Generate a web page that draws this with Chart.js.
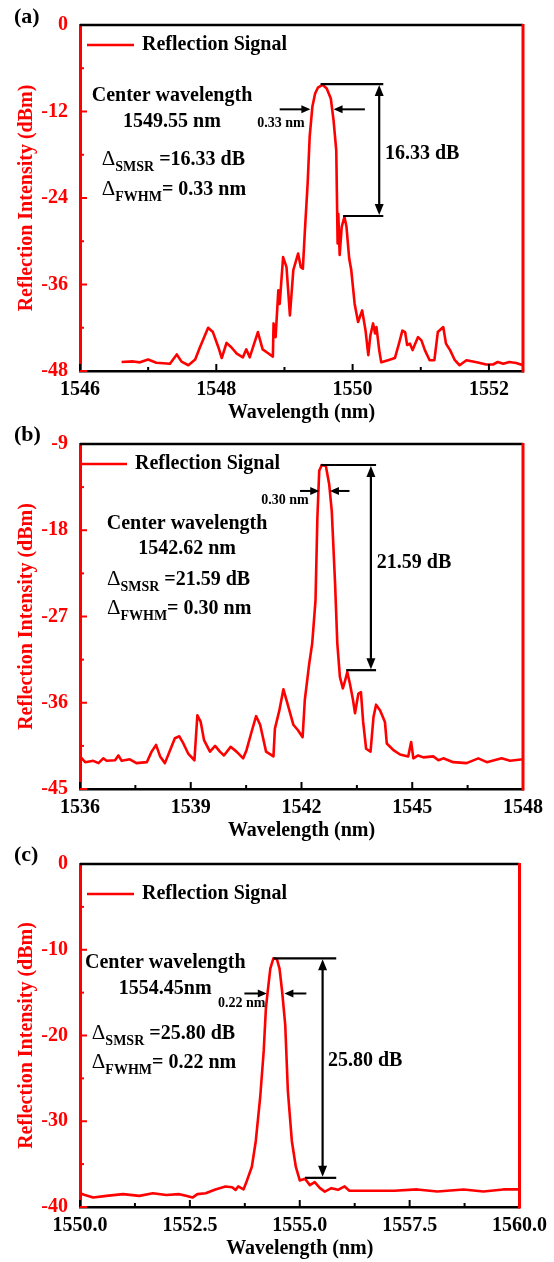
<!DOCTYPE html>
<html>
<head>
<meta charset="utf-8">
<script src="https://cdn.jsdelivr.net/npm/chart.js@4.4.1/dist/chart.umd.min.js"></script>
<style>
  html, body { margin: 0; padding: 0; background: #fff; }
  #wrap { position: relative; width: 554px; height: 1262px; overflow: hidden; }
  canvas { position: absolute; left: 0; }
</style>
</head>
<body>
<div id="wrap">
  <canvas id="chartA" width="554" height="430" style="top:0px"></canvas>
  <canvas id="chartB" width="554" height="428" style="top:420px"></canvas>
  <canvas id="chartC" width="554" height="426" style="top:840px"></canvas>
</div>
<script>
// spectra (wavelength in nm, intensity in dBm)
const wavelengthA = [1546.61, 1546.78, 1546.88, 1547.00, 1547.12, 1547.32, 1547.42, 1547.49, 1547.59, 1547.69,
  1547.76, 1547.88, 1547.95, 1548.03, 1548.08, 1548.15, 1548.22, 1548.30, 1548.39, 1548.44,
  1548.49, 1548.61, 1548.68, 1548.74, 1548.83, 1548.84, 1548.87, 1548.91, 1548.93, 1548.98,
  1549.03, 1549.08, 1549.13, 1549.20, 1549.24, 1549.27, 1549.30, 1549.34, 1549.37, 1549.41,
  1549.45, 1549.49, 1549.56, 1549.62, 1549.68, 1549.72, 1549.76, 1549.78, 1549.79, 1549.81,
  1549.84, 1549.88, 1549.91, 1549.95, 1549.98, 1550.03, 1550.08, 1550.14, 1550.19, 1550.23,
  1550.26, 1550.30, 1550.33, 1550.35, 1550.39, 1550.42, 1550.52, 1550.62, 1550.68, 1550.73,
  1550.77, 1550.80, 1550.84, 1550.88, 1550.96, 1551.01, 1551.06, 1551.13, 1551.20, 1551.25,
  1551.33, 1551.37, 1551.43, 1551.50, 1551.57, 1551.67, 1551.82, 1551.96, 1552.06, 1552.13,
  1552.21, 1552.30, 1552.40, 1552.50];
const intensityA = [-46.75, -46.67, -46.8, -46.4, -46.85, -47.0, -45.7, -46.7, -47.2, -46.4,
  -44.7, -42.0, -42.6, -44.7, -46.2, -44.1, -44.7, -45.6, -46.1, -45.0,
  -46.1, -42.6, -45.0, -45.4, -46.0, -41.4, -43.3, -36.8, -38.7, -32.2,
  -33.6, -40.3, -34.0, -31.7, -33.6, -33.8, -28.5, -22.0, -15.5, -11.3,
  -9.5, -8.7, -8.3, -8.8, -10.2, -13.2, -17.4, -30.3, -26.2, -31.9,
  -28.0, -26.6, -28.0, -32.4, -34.0, -38.7, -41.2, -39.6, -42.4, -45.8,
  -43.1, -41.4, -42.8, -41.9, -45.1, -46.8, -46.5, -46.2, -44.2, -42.4,
  -42.6, -44.4, -44.2, -45.1, -43.3, -43.75, -45.1, -46.5, -46.5, -42.6,
  -41.9, -44.2, -45.1, -46.5, -47.2, -46.5, -46.8, -47.1, -47.1, -46.75,
  -47.0, -46.75, -46.9, -47.2];

const wavelengthB = [1536.00, 1536.14, 1536.36, 1536.50, 1536.63, 1536.72, 1536.95, 1537.04, 1537.13, 1537.35,
  1537.53, 1537.81, 1537.94, 1538.06, 1538.17, 1538.30, 1538.44, 1538.57, 1538.69, 1538.80,
  1538.93, 1539.10, 1539.14, 1539.18, 1539.27, 1539.36, 1539.52, 1539.66, 1539.79, 1539.90,
  1540.08, 1540.24, 1540.42, 1540.51, 1540.65, 1540.77, 1540.88, 1541.04, 1541.24, 1541.28,
  1541.40, 1541.51, 1541.62, 1541.78, 1541.91, 1542.03, 1542.09, 1542.21, 1542.29, 1542.38,
  1542.43, 1542.48, 1542.55, 1542.66, 1542.75, 1542.82, 1542.91, 1542.97, 1543.04, 1543.12,
  1543.18, 1543.24, 1543.31, 1543.39, 1543.45, 1543.54, 1543.61, 1543.67, 1543.75, 1543.87,
  1543.95, 1544.02, 1544.13, 1544.26, 1544.31, 1544.49, 1544.67, 1544.89, 1544.97, 1545.03,
  1545.16, 1545.30, 1545.57, 1545.71, 1545.84, 1546.11, 1546.47, 1546.79, 1547.02, 1547.42,
  1547.65, 1548.00];
const intensityB = [-41.6, -42.2, -42.06, -42.3, -41.8, -42.06, -42.0, -41.5, -42.06, -41.9,
  -42.3, -42.2, -41.1, -40.4, -41.6, -42.3, -40.95, -39.7, -39.5, -40.25,
  -41.3, -42.0, -39.6, -37.3, -38.0, -39.9, -41.1, -40.5, -41.1, -41.5,
  -40.6, -41.1, -41.8, -40.95, -39.0, -37.4, -38.3, -41.1, -41.6, -38.7,
  -36.8, -34.6, -36.1, -38.3, -38.9, -39.6, -35.7, -31.9, -29.8, -25.3,
  -16.7, -11.8, -11.2, -11.3, -13.2, -16.0, -23.6, -29.8, -33.3, -34.5,
  -33.7, -32.8, -34.0, -35.6, -37.1, -35.05, -34.9, -38.0, -40.8, -41.1,
  -37.5, -36.2, -36.8, -38.0, -40.25, -40.95, -41.4, -41.6, -40.1, -41.8,
  -41.5, -41.7, -41.6, -42.0, -41.8, -42.2, -42.3, -41.8, -42.2, -41.8,
  -42.06, -41.9];

const wavelengthC = [1550.00, 1550.11, 1550.30, 1550.60, 1550.98, 1551.35, 1551.66, 1551.96, 1552.26, 1552.41,
  1552.56, 1552.67, 1552.86, 1553.08, 1553.31, 1553.46, 1553.54, 1553.60, 1553.72, 1553.80,
  1553.91, 1554.00, 1554.10, 1554.18, 1554.23, 1554.27, 1554.33, 1554.40, 1554.48, 1554.54,
  1554.60, 1554.67, 1554.73, 1554.82, 1554.91, 1555.00, 1555.12, 1555.23, 1555.34, 1555.46,
  1555.57, 1555.72, 1555.87, 1556.02, 1556.13, 1556.55, 1557.15, 1557.67, 1558.13, 1558.73,
  1559.18, 1559.63, 1560.00];
const intensityC = [-38.4, -38.6, -38.9, -38.7, -38.5, -38.7, -38.4, -38.6, -38.5, -38.7,
  -38.9, -38.5, -38.4, -37.95, -37.6, -37.7, -38.0, -37.6, -37.95, -36.9,
  -35.3, -32.3, -27.2, -21.8, -16.8, -14.9, -12.2, -11.0, -11.1, -12.2,
  -14.9, -18.8, -26.5, -32.3, -35.3, -36.9, -36.7, -37.45, -37.1, -37.8,
  -38.2, -37.8, -38.0, -37.6, -38.1, -38.1, -38.1, -37.95, -38.2, -37.95,
  -38.2, -37.95, -37.95];

// axis ticks
const xTicksA = [1546, 1548, 1550, 1552];
const yTicksA = [-48, -36, -24, -12, 0];
const xTicksB = [1536, 1539, 1542, 1545, 1548];
const yTicksB = [-45, -36, -27, -18, -9];
const xTicksC = [1550, 1552.5, 1555, 1557.5, 1560];
const yTicksC = [-40, -30, -20, -10, 0];

const FONT = "'Liberation Serif', 'Times New Roman', serif";
const RED = '#ff0000';
const INK = '#000000';

const panels = [
  {
    id: 'chartA', tag: '(a)', tagY: 17, padTop: 25,
    wl: wavelengthA, db: intensityA, xTicks: xTicksA, yTicks: yTicksA, decimals: 0,
    xMin: 1546, xMax: 1552.5, yMin: -48, yMax: 0,
    legend: { dx: 7, dy: 20 },
    center: { x: 1547.35, y1: -9.85, y2: -13.46, value: '1549.55 nm' },
    delta: { x: 1546.32, y1: -18.45, y2: -22.6, smsr: ' =16.33 dB', fwhm: '= 0.33 nm' },
    peak: { top: -8.19, bottom: -26.5, x1: 1549.53, x2: 1549.86, xEnd: 1550.45, xArrow: 1550.39,
            label: '16.33 dB', lx: 1550.475, ly: -17.9 },
    fwhm: { y: -11.7, l0: 1548.93, l1: 1549.38, r0: 1550.18, r1: 1549.72, label: '0.33 nm', lx: 1548.95, ly: -13.6 }
  },
  {
    id: 'chartB', tag: '(b)', tagY: 15, padTop: 23,
    wl: wavelengthB, db: intensityB, xTicks: xTicksB, yTicks: yTicksB, decimals: 0,
    xMin: 1536, xMax: 1548, yMin: -45, yMax: -9,
    legend: { dx: 0, dy: 20 },
    center: { x: 1538.90, y1: -17.32, y2: -19.93, value: '1542.62 nm' },
    delta: { x: 1536.73, y1: -22.94, y2: -26.06, smsr: ' =21.59 dB', fwhm: '= 0.30 nm' },
    peak: { top: -11.19, bottom: -32.6, x1: 1542.52, x2: 1543.21, xEnd: 1544.02, xArrow: 1543.88,
            label: '21.59 dB', lx: 1544.04, ly: -21.38 },
    fwhm: { y: -13.9, l0: 1541.96, l1: 1542.48, r0: 1543.30, r1: 1542.77, label: '0.30 nm', lx: 1541.55, ly: -14.93 }
  },
  {
    id: 'chartC', tag: '(c)', tagY: 15, padTop: 21,
    wl: wavelengthC, db: intensityC, xTicks: xTicksC, yTicks: yTicksC, decimals: 1,
    xMin: 1550, xMax: 1560, yMin: -40, yMax: 0,
    legend: { dx: 7, dy: 30 },
    center: { x: 1551.94, y1: -11.56, y2: -14.57, value: '1554.45nm' },
    delta: { x: 1550.27, y1: -19.54, y2: -23.0, smsr: ' =25.80 dB', fwhm: '= 0.22 nm' },
    peak: { top: -11.0, bottom: -36.6, x1: 1554.40, x2: 1555.12, xEnd: 1555.83, xArrow: 1555.52,
            label: '25.80 dB', lx: 1555.64, ly: -23.0 },
    fwhm: { y: -15.1, l0: 1553.74, l1: 1554.25, r0: 1555.15, r1: 1554.65, label: '0.22 nm', lx: 1553.68, ly: -16.3 }
  }
];

const seg = (ctx, x1, y1, x2, y2) => {
  ctx.beginPath(); ctx.moveTo(x1, y1); ctx.lineTo(x2, y2); ctx.stroke();
};

// filled arrow head with its tip at (x, y) pointing along (dx, dy)
const head = (ctx, x, y, dx, dy, len, half) => {
  ctx.beginPath();
  ctx.moveTo(x, y);
  ctx.lineTo(x - dx * len - dy * half, y - dy * len + dx * half);
  ctx.lineTo(x - dx * len + dy * half, y - dy * len - dx * half);
  ctx.closePath();
  ctx.fill();
};

const midpoints = t => t.slice(1).map((v, i) => (v + t[i]) / 2);

function makeDecor(p) {
  return {
    id: 'decor',
    afterDatasetsDraw(chart) {
      const { ctx, chartArea: a, scales: { x, y } } = chart;
      const X = v => x.getPixelForValue(v);
      const Y = v => y.getPixelForValue(v);
      ctx.save();

      // inward ticks
      ctx.lineWidth = 2;
      ctx.strokeStyle = INK;
      p.xTicks.forEach(v => seg(ctx, X(v), a.bottom, X(v), a.bottom - 7));
      midpoints(p.xTicks).forEach(v => seg(ctx, X(v), a.bottom, X(v), a.bottom - 4));
      ctx.strokeStyle = RED;
      p.yTicks.forEach(v => seg(ctx, a.left, Y(v), a.left + 7, Y(v)));
      midpoints(p.yTicks).forEach(v => seg(ctx, a.left, Y(v), a.left + 4, Y(v)));

      // top and right frame
      ctx.lineWidth = 2.5;
      ctx.strokeStyle = INK;
      seg(ctx, a.left, a.top, a.right, a.top);
      ctx.lineWidth = 3;
      ctx.strokeStyle = RED;
      seg(ctx, a.right, a.top - 1, a.right, a.bottom + 1.5);

      // legend
      ctx.lineWidth = 2.6;
      const lx = a.left + p.legend.dx, ly = a.top + p.legend.dy;
      seg(ctx, lx, ly, lx + 47, ly);
      ctx.fillStyle = INK;
      ctx.textBaseline = 'middle';
      ctx.textAlign = 'left';
      ctx.font = `bold 20px ${FONT}`;
      ctx.fillText('Reflection Signal', lx + 55, ly);

      // panel tag
      ctx.font = `bold 22px ${FONT}`;
      ctx.fillText(p.tag, 14, p.tagY);

      // center wavelength block
      ctx.font = `bold 20px ${FONT}`;
      ctx.textAlign = 'center';
      ctx.fillText('Center wavelength', X(p.center.x), Y(p.center.y1));
      ctx.fillText(p.center.value, X(p.center.x), Y(p.center.y2));

      // delta lines with subscripts
      const deltaLine = (sub, rest, yv) => {
        let cx = X(p.delta.x);
        const base = Y(yv) + 7;
        ctx.textAlign = 'left';
        ctx.textBaseline = 'alphabetic';
        ctx.font = `21px ${FONT}`;
        ctx.fillText('\u0394', cx, base);
        cx += ctx.measureText('\u0394').width;
        ctx.font = `bold 14px ${FONT}`;
        ctx.fillText(sub, cx, base + 6);
        cx += ctx.measureText(sub).width;
        ctx.font = `bold 20px ${FONT}`;
        ctx.fillText(rest, cx, base);
      };
      deltaLine('SMSR', p.delta.smsr, p.delta.y1);
      deltaLine('FWHM', p.delta.fwhm, p.delta.y2);

      // SMSR marker: two horizontal lines and a double arrow
      ctx.lineWidth = 2.2;
      ctx.strokeStyle = INK;
      ctx.fillStyle = INK;
      const pk = p.peak;
      seg(ctx, X(pk.x1), Y(pk.top), X(pk.xEnd), Y(pk.top));
      seg(ctx, X(pk.x2), Y(pk.bottom), X(pk.xEnd), Y(pk.bottom));
      const ax = X(pk.xArrow), at = Y(pk.top) + 1, ab = Y(pk.bottom) - 1;
      seg(ctx, ax, at + 8, ax, ab - 8);
      head(ctx, ax, at, 0, -1, 11, 4.5);
      head(ctx, ax, ab, 0, 1, 11, 4.5);
      ctx.textAlign = 'left';
      ctx.textBaseline = 'middle';
      ctx.font = `bold 20px ${FONT}`;
      ctx.fillText(pk.label, X(pk.lx), Y(pk.ly));

      // FWHM arrows
      ctx.lineWidth = 2;
      const fw = p.fwhm, fy = Y(fw.y);
      seg(ctx, X(fw.l0), fy, X(fw.l1) - 7, fy);
      head(ctx, X(fw.l1), fy, 1, 0, 9, 4);
      seg(ctx, X(fw.r0), fy, X(fw.r1) + 7, fy);
      head(ctx, X(fw.r1), fy, -1, 0, 9, 4);
      ctx.textAlign = 'center';
      ctx.font = `bold 14px ${FONT}`;
      ctx.fillText(fw.label, X(fw.lx), Y(fw.ly));

      ctx.restore();
    }
  };
}

function makeChart(p) {
  const canvas = document.getElementById(p.id);
  return new Chart(canvas, {
    type: 'line',
    data: {
      datasets: [{
        label: 'Reflection Signal',
        data: p.wl.map((w, i) => ({ x: w, y: p.db[i] })),
        borderColor: RED,
        borderWidth: 2.6,
        borderJoinStyle: 'round',
        pointRadius: 0,
        tension: 0,
        fill: false
      }]
    },
    options: {
      responsive: false,
      animation: false,
      devicePixelRatio: 1,
      layout: { padding: { top: p.padTop, left: 0, right: 31, bottom: 0 } },
      plugins: { legend: { display: false }, tooltip: { enabled: false } },
      scales: {
        x: {
          type: 'linear',
          min: p.xMin,
          max: p.xMax,
          afterFit: s => { s.height = 59; },
          afterBuildTicks: s => { s.ticks = p.xTicks.map(v => ({ value: v })); },
          grid: { display: false, drawTicks: false },
          border: { display: true, color: INK, width: 2.5 },
          ticks: {
            autoSkip: false, maxRotation: 0, minRotation: 0, padding: 7, color: INK,
            font: { family: FONT, size: 20, weight: 'bold' },
            callback: v => Number(v).toFixed(p.decimals)
          },
          title: {
            display: true, text: 'Wavelength (nm)', color: INK,
            font: { family: FONT, size: 20, weight: 'bold' },
            padding: { top: 0, bottom: 5 }
          }
        },
        y: {
          type: 'linear',
          min: p.yMin,
          max: p.yMax,
          afterFit: s => { s.width = 80; },
          afterBuildTicks: s => { s.ticks = p.yTicks.map(v => ({ value: v })); },
          grid: { display: false, drawTicks: false },
          border: { display: true, color: RED, width: 3 },
          ticks: {
            padding: 12, color: RED,
            font: { family: FONT, size: 20, weight: 'bold' },
            callback: v => String(v)
          },
          title: {
            display: true, text: 'Reflection Intensity (dBm)', color: RED,
            font: { family: FONT, size: 20, weight: 'bold' },
            padding: { top: 15, bottom: 0 }
          }
        }
      }
    },
    plugins: [makeDecor(p)]
  });
}

panels.forEach(makeChart);
</script>
</body>
</html>
